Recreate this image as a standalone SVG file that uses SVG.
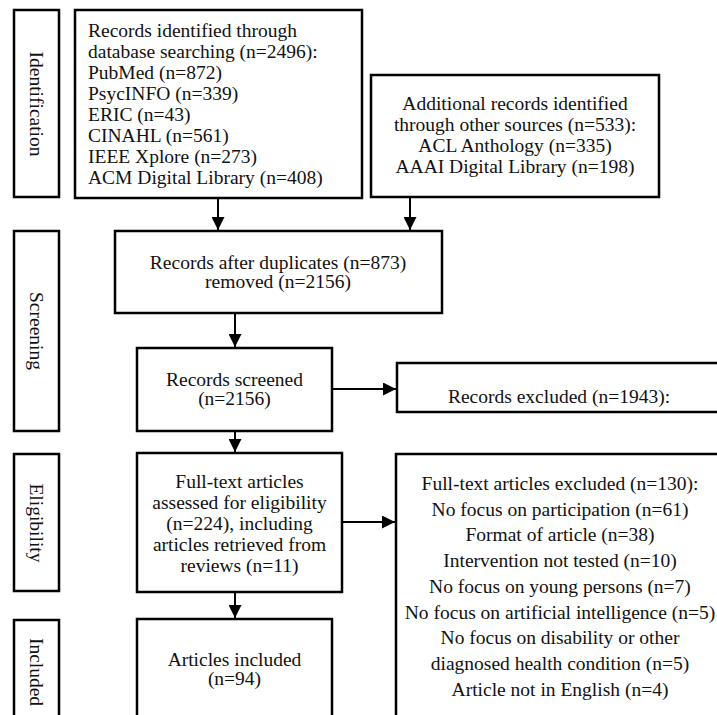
<svg xmlns="http://www.w3.org/2000/svg" width="717" height="715" viewBox="0 0 717 715">
<style>
.box{fill:#fff;stroke:#000;stroke-width:2.5}
.t{font-family:"Liberation Serif","Times New Roman",serif;font-size:19.5px;fill:#111}
.c{text-anchor:middle}
.edge{stroke:#000;stroke-width:2;fill:none}
</style>
<defs>
<marker id="ah" viewBox="0 0 10 10" refX="10" refY="5" markerWidth="6.5" markerHeight="6.5" orient="auto" markerUnits="strokeWidth">
<path d="M0,0 L10,5 L0,10 Z" fill="#000"/>
</marker>
</defs>
<rect width="717" height="715" fill="#fff"/>

<g id="stage-identification">
<rect class="box" x="14" y="10" width="45" height="187"/>
<text class="t c" transform="translate(36,104) rotate(90)" dominant-baseline="central">Identification</text>
</g>
<g id="stage-screening">
<rect class="box" x="14" y="231" width="45" height="200"/>
<text class="t c" transform="translate(36,331) rotate(90)" dominant-baseline="central">Screening</text>
</g>
<g id="stage-eligibility">
<rect class="box" x="14" y="454" width="45" height="137"/>
<text class="t c" transform="translate(36,523) rotate(90)" dominant-baseline="central">Eligibility</text>
</g>
<g id="stage-included">
<rect class="box" x="14" y="620" width="45" height="110"/>
<text class="t c" transform="translate(36,672) rotate(90)" dominant-baseline="central">Included</text>
</g>

<g id="records-identified">
<rect class="box" x="75" y="10" width="287" height="188"/>
<text class="t" x="88" y="37">Records identified through</text>
<text class="t" x="88" y="58">database searching (n=2496):</text>
<text class="t" x="88" y="79">PubMed (n=872)</text>
<text class="t" x="88" y="100">PsycINFO (n=339)</text>
<text class="t" x="88" y="121">ERIC (n=43)</text>
<text class="t" x="88" y="142">CINAHL (n=561)</text>
<text class="t" x="88" y="163">IEEE Xplore (n=273)</text>
<text class="t" x="88" y="184">ACM Digital Library (n=408)</text>
</g>

<g id="additional-records">
<rect class="box" x="371" y="75" width="288" height="122"/>
<text class="t c" x="515" y="110">Additional records identified</text>
<text class="t c" x="515" y="131">through other sources (n=533):</text>
<text class="t c" x="515" y="152">ACL Anthology (n=335)</text>
<text class="t c" x="515" y="173">AAAI Digital Library (n=198)</text>
</g>

<g id="after-duplicates">
<rect class="box" x="115" y="231" width="327" height="82"/>
<text class="t c" x="278" y="269">Records after duplicates (n=873)</text>
<text class="t c" x="278" y="288">removed (n=2156)</text>
</g>

<g id="records-screened">
<rect class="box" x="137" y="348" width="195" height="83"/>
<text class="t c" x="234.5" y="386">Records screened</text>
<text class="t c" x="234.5" y="405">(n=2156)</text>
</g>

<g id="records-excluded">
<rect class="box" x="397" y="363" width="340" height="49"/>
<text class="t c" x="559" y="403">Records excluded (n=1943):</text>
</g>

<g id="full-text-assessed">
<rect class="box" x="137" y="453" width="205" height="139"/>
<text class="t c" x="239.5" y="488">Full-text articles</text>
<text class="t c" x="239.5" y="509">assessed for eligibility</text>
<text class="t c" x="239.5" y="530">(n=224), including</text>
<text class="t c" x="239.5" y="551">articles retrieved from</text>
<text class="t c" x="239.5" y="572">reviews (n=11)</text>
</g>

<g id="full-text-excluded">
<rect class="box" x="396" y="454" width="340" height="280"/>
<text class="t c" x="560" y="490">Full-text articles excluded (n=130):</text>
<text class="t c" x="560" y="515.7">No focus on participation (n=61)</text>
<text class="t c" x="560" y="541.4">Format of article (n=38)</text>
<text class="t c" x="560" y="567.1">Intervention not tested (n=10)</text>
<text class="t c" x="560" y="592.8">No focus on young persons (n=7)</text>
<text class="t c" x="560" y="618.5">No focus on artificial intelligence (n=5)</text>
<text class="t c" x="560" y="644.2">No focus on disability or other</text>
<text class="t c" x="560" y="669.9">diagnosed health condition (n=5)</text>
<text class="t c" x="560" y="695.6">Article not in English (n=4)</text>
</g>

<g id="articles-included">
<rect class="box" x="137" y="619" width="195" height="110"/>
<text class="t c" x="234.5" y="666">Articles included</text>
<text class="t c" x="234.5" y="685">(n=94)</text>
</g>

<g id="connectors">
<line class="edge" x1="218" y1="198" x2="218" y2="230" marker-end="url(#ah)"/>
<line class="edge" x1="410" y1="197" x2="410" y2="230" marker-end="url(#ah)"/>
<line class="edge" x1="235" y1="313" x2="235" y2="347" marker-end="url(#ah)"/>
<line class="edge" x1="235" y1="431" x2="235" y2="452" marker-end="url(#ah)"/>
<line class="edge" x1="235" y1="592" x2="235" y2="618" marker-end="url(#ah)"/>
<line class="edge" x1="332" y1="389" x2="396" y2="389" marker-end="url(#ah)"/>
<line class="edge" x1="342" y1="522" x2="395" y2="522" marker-end="url(#ah)"/>
</g>
</svg>
